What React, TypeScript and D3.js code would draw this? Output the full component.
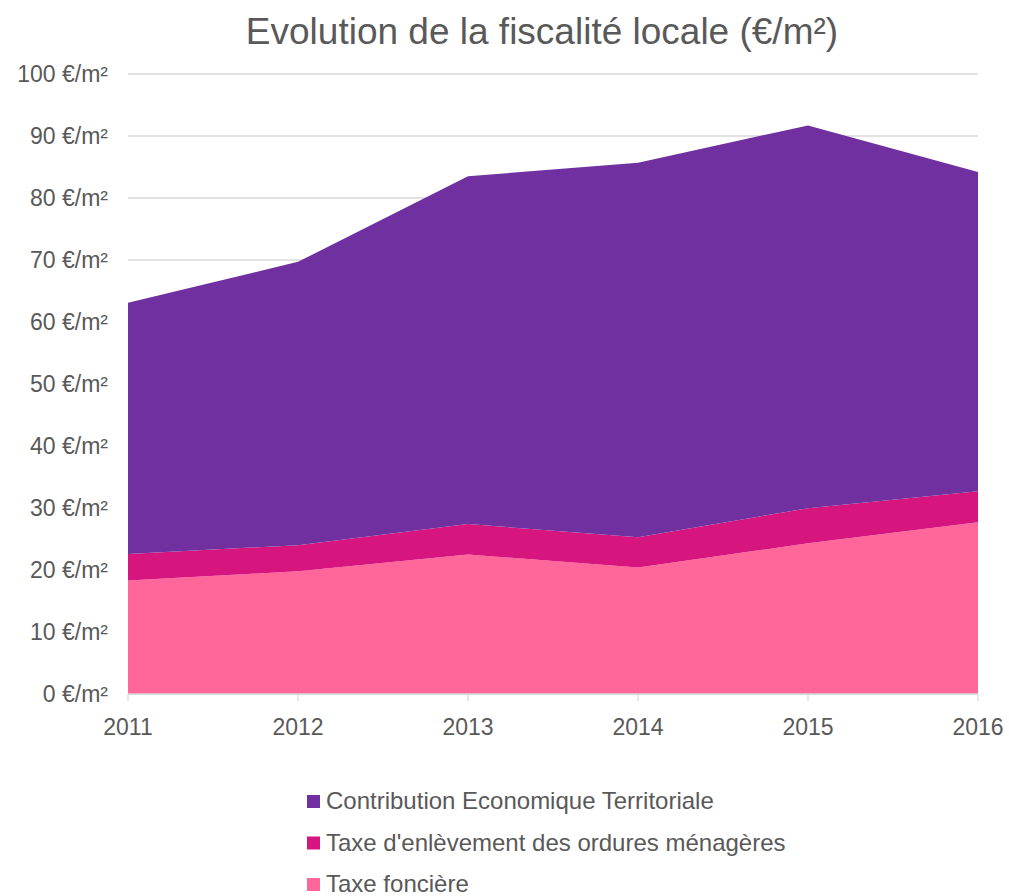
import React from "react";
import * as d3 from "d3";

const years = ["2011", "2012", "2013", "2014", "2015", "2016"];
const taxeFonciere = [18.3, 19.8, 22.5, 20.4, 24.3, 27.7];
const teom = [4.3, 4.2, 4.9, 4.9, 5.65, 5.0];
const cet = [40.5, 45.7, 56.1, 60.4, 61.75, 51.5];
const yTicks = [0, 10, 20, 30, 40, 50, 60, 70, 80, 90, 100];
const seriesNames = [
  "Taxe foncière",
  "Taxe d'enlèvement des ordures ménagères",
  "Contribution Economique Territoriale",
];
const colors = ["#FF6699", "#D6157E", "#70309F"];

const W = 1009;
const H = 896;
const left = 128;
const right = 978;
const top = 74;
const bottom = 694;
const font = "'Liberation Sans', Arial, sans-serif";
const textColor = "#595959";

export default function App() {
  const x = d3.scalePoint<string>().domain(years).range([left, right]);
  const y = d3.scaleLinear().domain([0, 100]).range([bottom, top]);
  const rows = years.map((yr, i) => ({
    year: yr,
    tf: taxeFonciere[i],
    teom: teom[i],
    cet: cet[i],
  }));
  const stack = d3.stack<any>().keys(["tf", "teom", "cet"]);
  const layers = stack(rows);
  const area = d3
    .area<any>()
    .x((d) => x(d.data.year) as number)
    .y0((d) => y(d[0]))
    .y1((d) => y(d[1]));

  const legendOrder = [2, 1, 0];

  return (
    <svg
      width={W}
      height={H}
      style={{ position: "absolute", left: 0, top: 0 }}
      fontFamily={font}
    >
      <rect width={W} height={H} fill="#fff" />
      <text
        x={542}
        y={44}
        textAnchor="middle"
        fontSize={37}
        fill={textColor}
      >
        Evolution de la fiscalité locale (€/m²)
      </text>
      {yTicks.map((t) => (
        <g key={t}>
          <line
            x1={left}
            x2={right}
            y1={y(t)}
            y2={y(t)}
            stroke="#D9D9D9"
            strokeWidth={1.3}
          />
          <text
            x={108}
            y={y(t)}
            dy="0.35em"
            textAnchor="end"
            fontSize={23}
            fill={textColor}
          >
            {t} €/m²
          </text>
        </g>
      ))}
      {layers.map((l, i) => (
        <path key={i} d={area(l) as string} fill={colors[i]} />
      ))}
      <line
        x1={left}
        x2={right}
        y1={bottom}
        y2={bottom}
        stroke="#D9D9D9"
        strokeWidth={1.3}
      />
      {years.map((yr) => (
        <g key={yr}>
          <line
            x1={x(yr)}
            x2={x(yr)}
            y1={bottom}
            y2={bottom + 7}
            stroke="#D9D9D9"
            strokeWidth={1.3}
          />
          <text
            x={x(yr)}
            y={735}
            textAnchor="middle"
            fontSize={23}
            fill={textColor}
          >
            {yr}
          </text>
        </g>
      ))}
      {legendOrder.map((si, k) => {
        const cy = 801 + k * 41.5;
        return (
          <g key={si}>
            <rect x={307} y={cy - 6} width={13} height={13} fill={colors[si]} />
            <text x={326} y={cy} dy="0.35em" fontSize={24} fill={textColor}>
              {seriesNames[si]}
            </text>
          </g>
        );
      })}
    </svg>
  );
}
